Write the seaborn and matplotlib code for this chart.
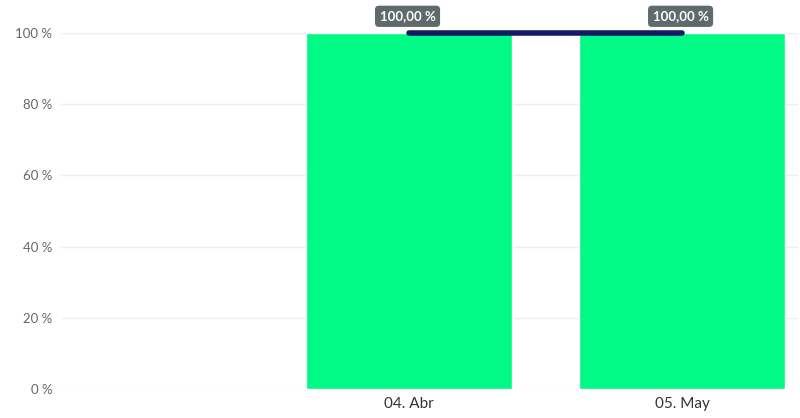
import matplotlib
matplotlib.use("Agg")
import matplotlib.pyplot as plt
import seaborn as sns
import pandas as pd

months = ["04. Abr", "05. May"]
bar_values = [100, 100]
line_values = [100, 100]
y_ticks = [0, 20, 40, 60, 80, 100]

df = pd.DataFrame({"month": months, "bar": bar_values, "line": line_values})
df["pos"] = range(len(df))

sns.set_theme(style="white")
plt.rcParams["font.family"] = ["Lato", "DejaVu Sans"]

fig = plt.figure(figsize=(8, 4.18), dpi=100)
ax = fig.add_axes([0.076, 0.0694, 0.9215, 0.8517])

sns.barplot(data=df, x="month", y="bar", color="#01F985", width=0.755,
            saturation=1, ax=ax, zorder=2)
sns.lineplot(data=df, x="pos", y="line", color="#141a66", linewidth=4,
             solid_capstyle="round", ax=ax, zorder=4, clip_on=False)

for _, row in df.iterrows():
    ax.annotate(f"{row['line']:.2f} %".replace(".", ","), (row["pos"], row["line"]),
                xytext=(-1, 12), textcoords="offset points", ha="center", va="center",
                fontsize=9.5, fontweight="bold", color="white", zorder=5,
                bbox=dict(boxstyle="round,pad=0.35,rounding_size=0.3",
                          fc="#5f6a6c", ec="none"),
                annotation_clip=False)

ax.set_xlim(-1.275, 1.425)
ax.set_ylim(0, 100)
ax.set_yticks(y_ticks)
ax.set_yticklabels([f"{t} %" for t in y_ticks], color="#666666", fontsize=9.5)
ax.set_xticks(df["pos"])
ax.set_xticklabels(months, color="#333333", fontsize=11)
ax.set_xlabel("")
ax.set_ylabel("")
ax.grid(axis="y", color="#eeeeee", linewidth=1, zorder=0)
ax.set_axisbelow(True)
ax.tick_params(axis="both", length=0, pad=6)
sns.despine(ax=ax, left=True, bottom=True)

fig.savefig("out.png", dpi=100)
